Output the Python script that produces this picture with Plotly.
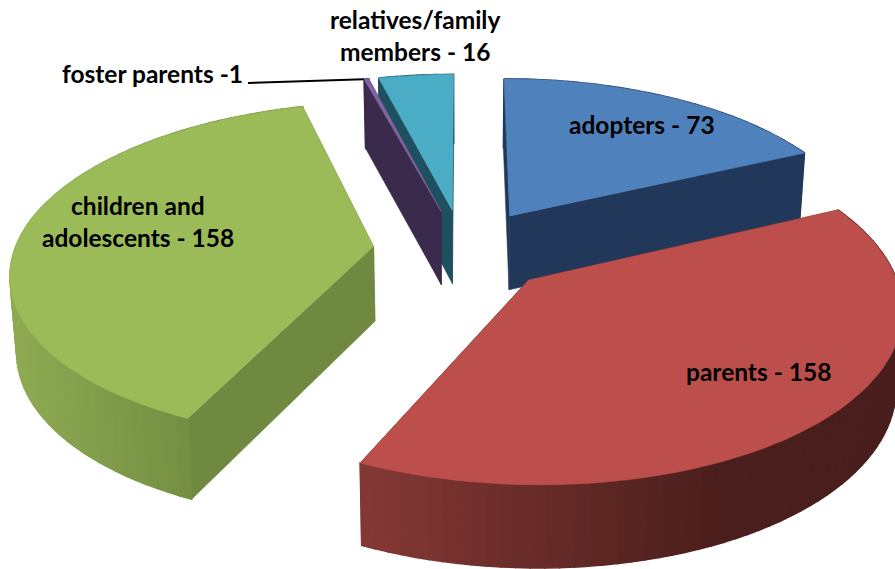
import numpy as np
import plotly.graph_objects as go

# ---- data ----
categories = ["adopters", "parents", "children and adolescents", "foster parents", "relatives/family members"]
values = [73, 158, 158, 1, 16]

# ---- styles ----
top_colors = ["#4F81BD", "#BC4F4B", "#9BBB59", "#8064A2", "#4BACC6"]
face_colors = ["#22385A", "#4A1E1C", "#6F8A40", "#3A2A4C", "#1F5060"]
rim_dark = ["#22385A", "#4A1E1C", "#738E42", "#3A2A4C", "#1F5060"]
rim_light = ["#22385A", "#853835", "#8DAA52", "#3A2A4C", "#1F5060"]
rim_span = [None, (360, 720), (15, 195), None, None]
draw_order = [4, 3, 0, 2, 1]

# projection of the pie plane onto the page
CX, CY = 463.0, 250.0
RADIUS, EXPLODE = 359.0, 90.0
TILT, PERSP, DEPTH, DEPTH_GROW, SHRINK = 0.462, 0.0004, 75.0, 40.0, 0.985


def project(x, y):
    s = 1.0 / (1.0 - PERSP * y)
    return CX + x * s, CY + TILT * y * s, s


def lower(px, py, s):
    return CX + (px - CX) * SHRINK, py + DEPTH + DEPTH_GROW * (s - 1)


def mix(c1, c2, f):
    a = [int(c1[i:i + 2], 16) for i in (1, 3, 5)]
    b = [int(c2[i:i + 2], 16) for i in (1, 3, 5)]
    return "rgb(%d,%d,%d)" % tuple(round(p + (q - p) * f) for p, q in zip(a, b))


def poly(fig, xs, ys, color, width=0.6):
    fig.add_trace(go.Scatter(x=xs, y=ys, mode="lines", fill="toself", fillcolor=color,
                             line=dict(color=color, width=width), hoverinfo="skip", showlegend=False))


total = sum(values)
edges = np.concatenate([[0], np.cumsum(values)]) / total * 2 * np.pi

fig = go.Figure()
foster_tip = None
for i in draw_order:
    a0, a1 = edges[i], edges[i + 1]
    mid = (a0 + a1) / 2
    ox, oy = EXPLODE * np.sin(mid), -EXPLODE * np.cos(mid)
    th = np.linspace(a0, a1, max(4, int(np.degrees(a1 - a0) / 2) + 2))
    ax_, ay_, as_ = project(ox, oy)
    bx_, by_ = lower(ax_, ay_, as_)
    X, Y, S = project(ox + RADIUS * np.sin(th), oy - RADIUS * np.cos(th))
    BX, BY = lower(X, Y, S)
    # radial faces
    for k in (0, -1):
        poly(fig, [ax_, X[k], BX[k], bx_, ax_], [ay_, Y[k], BY[k], by_, ay_], face_colors[i])
    # rim, shaded by horizontal position
    for k in range(len(th) - 1):
        f = 0.0
        if rim_span[i]:
            lo, hi = rim_span[i]
            f = float(np.clip((hi - (X[k] + X[k + 1]) / 2) / (hi - lo), 0, 1))
        col = mix(rim_dark[i], rim_light[i], f)
        poly(fig, [X[k], X[k + 1], BX[k + 1], BX[k], X[k]],
             [Y[k], Y[k + 1], BY[k + 1], BY[k], Y[k]], col, width=1.5)
    # top surface
    poly(fig, [ax_, *X, ax_], [ay_, *Y, ay_], top_colors[i])
    if i == 3:
        foster_tip = (X[0], Y[0])

label_font = dict(family="Lato", size=24.5, color="black", weight="bold")
label_lines = [
    ("adopters - 73", 642, 124, "center"),
    ("parents - 158", 758, 371, "center"),
    ("children and", 138, 205, "center"),
    ("adolescents - 158", 138, 237, "center"),
    ("foster parents -1", 152, 73, "center"),
    ("relatives/family", 415, 19, "center"),
    ("members - 16", 415, 51, "center"),
]
annotations = [dict(text=t, x=x, y=y, xref="x", yref="y", showarrow=False, xanchor=a, yanchor="middle",
                    font=label_font) for t, x, y, a in label_lines]

fig.update_layout(
    width=895, height=569, autosize=False,
    margin=dict(l=0, r=0, t=0, b=0),
    paper_bgcolor="white", plot_bgcolor="white",
    xaxis=dict(range=[0, 895], visible=False, fixedrange=True),
    yaxis=dict(range=[569, 0], visible=False, fixedrange=True),
    annotations=annotations,
    shapes=[dict(type="line", xref="x", yref="y", x0=248, y0=83, x1=foster_tip[0], y1=foster_tip[1],
                 line=dict(color="black", width=2))],
)
fig.write_html("out.html", config={"displayModeBar": False},
               post_script="document.body.style.margin='0';document.body.style.overflow='hidden';")
